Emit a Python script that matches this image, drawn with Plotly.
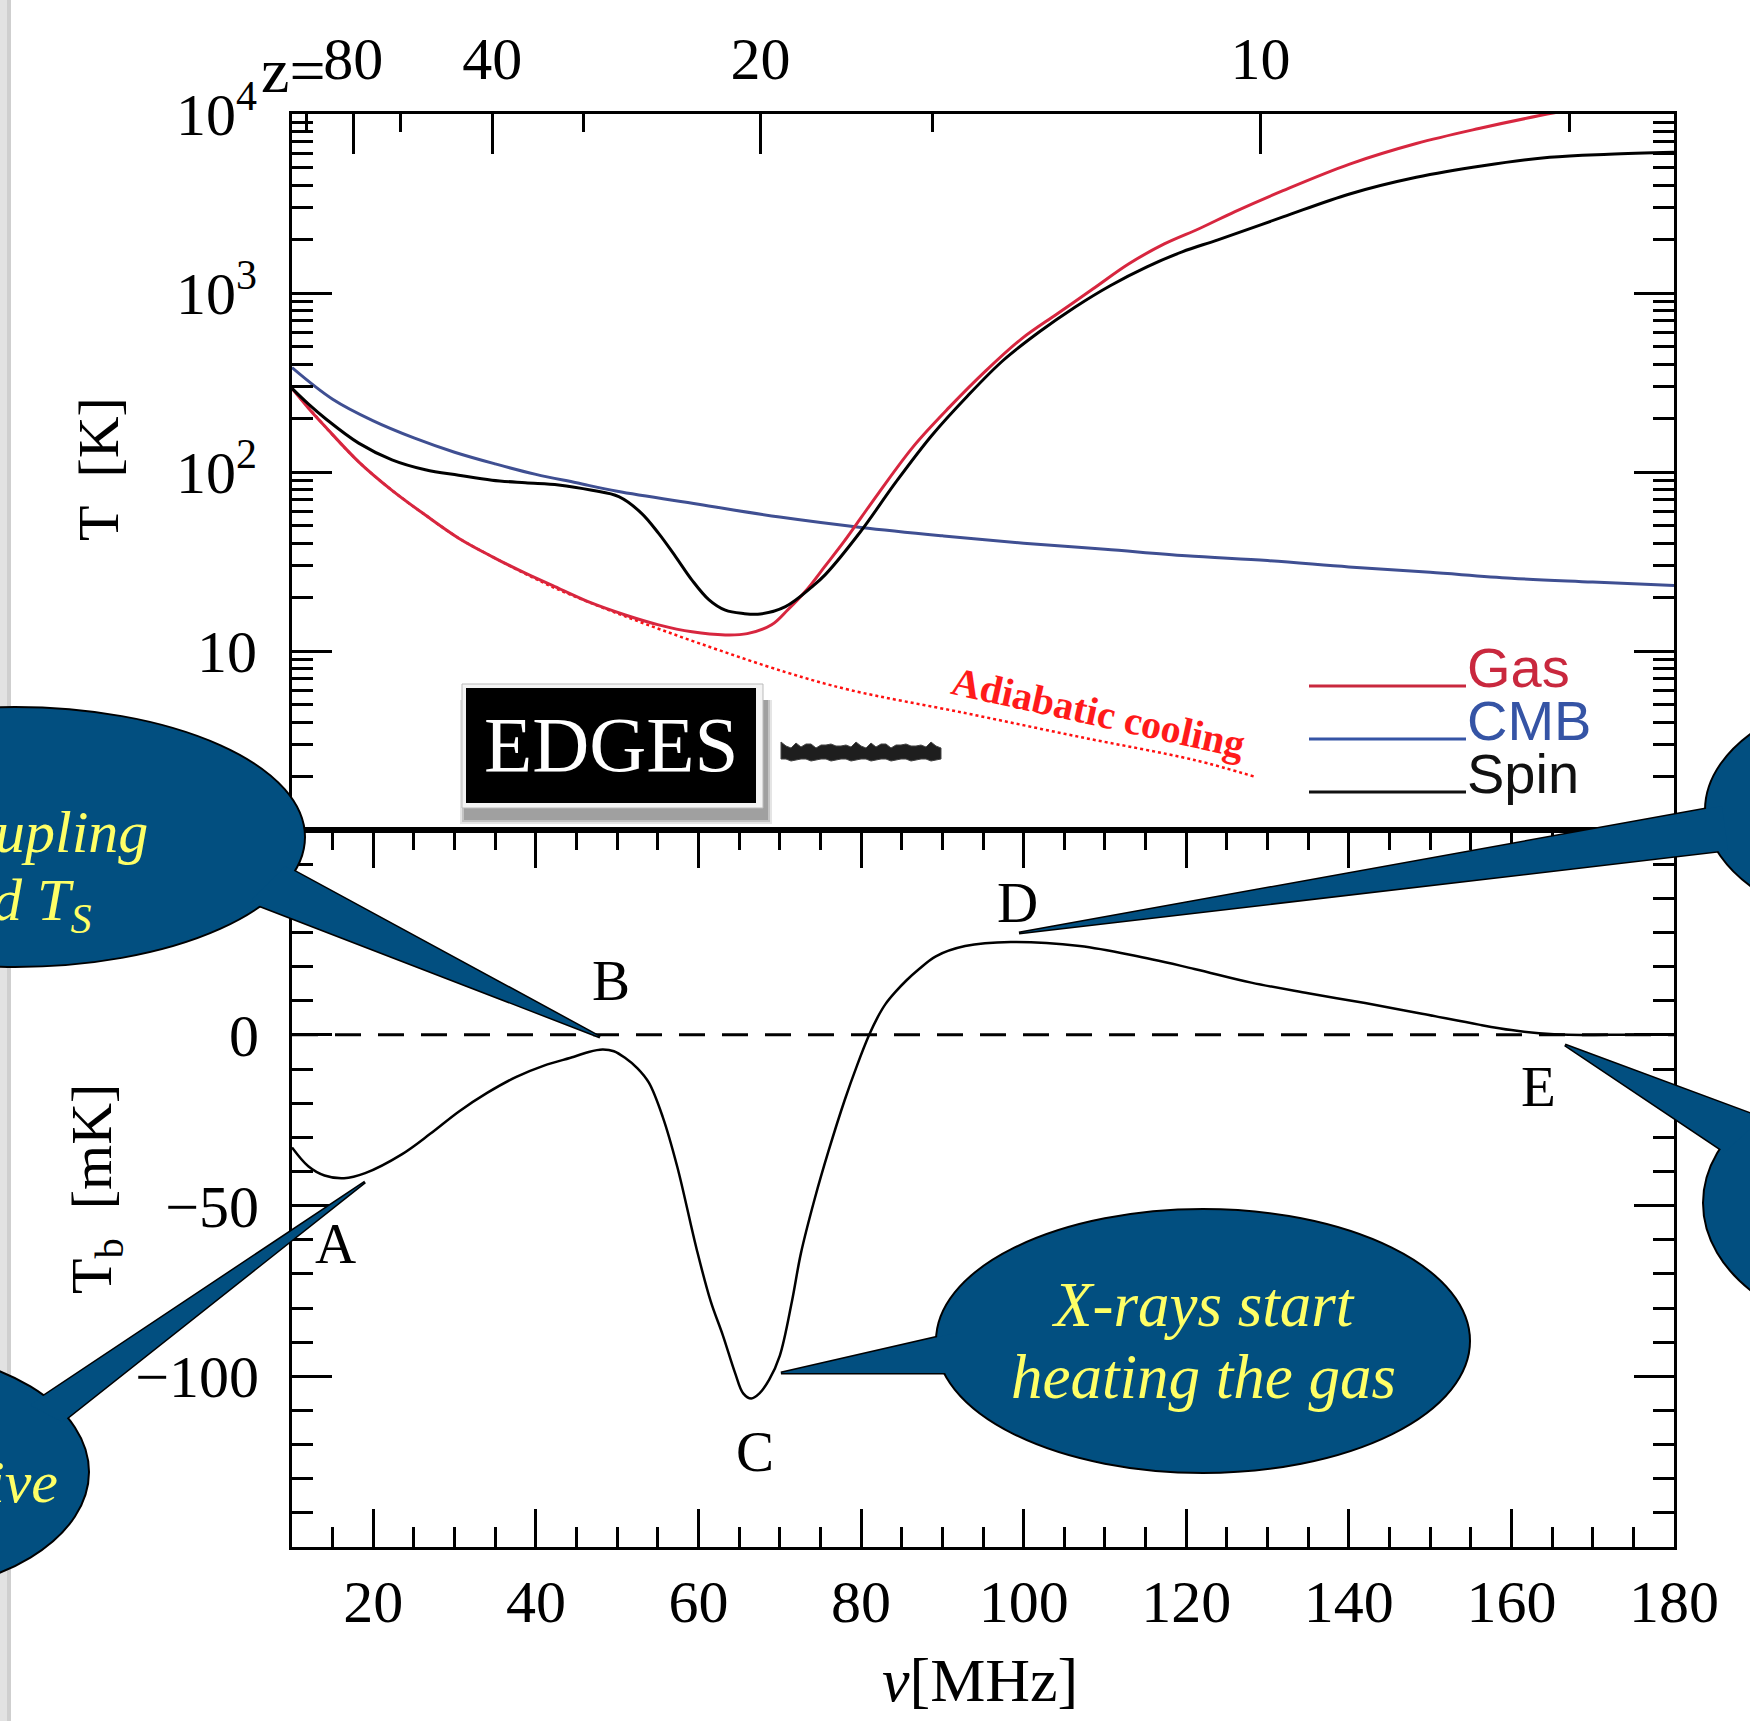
import plotly.graph_objects as go

W, H = 1750, 1721

# ---------------- data ----------------
nu_cmb = [10, 15, 20, 25, 30, 35, 40, 45, 50, 60, 70, 80, 90, 100, 110, 120, 130, 140, 150, 160, 170, 180]
T_cmb = [383, 255, 193, 155, 129, 111, 97, 87, 78, 66, 56, 49, 44, 40, 37, 34, 32, 29.5, 27.5, 25.5, 24.3, 23.2]

nu_gas = [10, 12, 14.1, 18.2, 22.3, 26.4, 30.5, 34.6, 38.7, 42.8, 46.9, 51, 55.1, 59.2, 63.3, 66, 69, 71,
          73.4, 75.5, 77.8, 80, 82.2, 86.5, 90.9, 95.3, 99.7, 104.1, 108.5, 112.9, 117.3, 121.7, 126,
          131.9, 140.1, 148.3, 156, 163.5, 167]
T_gas = [293, 228, 179, 114, 79, 57.5, 42.7, 33.7, 27.2, 22.4, 18.5, 15.9, 14.0, 12.8, 12.3, 12.5, 14.0, 17.0,
         22.2, 29.5, 40.3, 55.6, 76.8, 140, 231, 366, 553, 764, 1052, 1452, 1880, 2300, 2850,
         3730, 5250, 6840, 8300, 9800, 10500]

nu_spin = [10, 12, 14.1, 18.2, 22.3, 26.4, 30.5, 34.6, 38.7, 42.8, 46.9, 50.2, 53, 55.1, 57.2, 59.2, 61.3,
           63.3, 65.5, 67.6, 70.7, 74, 75.6, 79.9, 84.3, 88.7, 93.1, 97.5, 101.9, 106.3, 110.7, 115.1,
           119.5, 123.9, 131.9, 140.1, 148.3, 156.5, 164.7, 172, 180]
T_spin = [293, 240, 199, 145, 117, 103, 96, 90, 87, 84.6, 79, 72.8, 58.8, 45.4, 33.6, 24.9, 19.3,
          16.9, 16.2, 16.1, 17.7, 22.9, 26.7, 46.2, 88, 160, 266, 421, 605, 833, 1102, 1396,
          1698, 1982, 2660, 3575, 4430, 5140, 5730, 5960, 6110]

nu_adiabatic = [10, 14.1, 18.2, 22.3, 26.4, 30.5, 34.6, 38.7, 42.8, 51, 60.2, 70.8, 78.6, 92.8, 106.9, 121, 128.5]
T_adiabatic = [293, 179, 114, 79, 57.5, 42.7, 33.7, 27.0, 22.0, 15.6, 11.0, 7.6, 6.06, 4.5, 3.31, 2.46, 1.98]

nu_tb = [10, 12, 14, 16.4, 19, 23.5, 27, 30.5, 34, 37.6, 41, 44.7, 46.5, 48.2, 49.6, 51, 52.5, 53.9, 55.6, 57.4,
         59.8, 61.5, 63, 64.5, 65.5, 66.5, 67.5, 68.7, 70, 71.5, 72.6, 74.3, 76, 78, 79.5, 81, 82, 83, 84.2,
         85.6, 87, 89.2, 92.8, 98.4, 106.9, 114, 121, 128, 135, 142, 149, 156, 160, 163.4, 167, 172, 180]
T_tb = [-33, -38.5, -41.2, -42, -40.5, -35, -29, -22.5, -17, -12.3, -9, -6.4, -5, -4.3, -4.8, -6.8, -9.8, -14, -24, -38.7,
        -63, -78, -88, -99, -105, -106.5, -105, -101, -94, -78, -64, -48, -34, -19, -9, 0, 5, 9, 12.5,
        16, 19, 23, 26, 27.2, 26, 23, 19.3, 15.3, 12.2, 9.3, 6.2, 3.0, 1.4, 0.5, 0, 0, 0]

zero_nu = [10, 180]
zero_T = [0, 0]

z_major = [80, 40, 20, 10]
z_minor = [120, 60, 30, 15, 7.5]
nu_ticks = [20, 40, 60, 80, 100, 120, 140, 160, 180]
tb_ticks = [0, -50, -100]
tb_ticktext = ["0", "\u221250", "\u2212100"]
T_ticks = [10, 100, 1000, 10000]
T_ticktext = ["10", "10<sup>2</sup>", "10<sup>3</sup>", "10<sup>4</sup>"]

point_labels = ["A", "B", "C", "D", "E"]
point_nu = [15.4, 49.2, 66.9, 99.2, 163.3]
point_tb = [-61, 16, -122, 38.8, -15]

legend_names = ["Gas", "CMB", "Spin"]
legend_colors = ["#c9283e", "#3554a5", "#111111"]

GAS_C = "#d7263f"
CMB_C = "#3f4f92"
SPIN_C = "#000000"
BUBBLE = "#024f80"
YEL = "#ffff66"
SERIF = "Liberation Serif"
SANS = "Liberation Sans"


def px(x):
    return x / W


def py(y):
    return 1 - y / H


X0, X1 = 292, 1674
YT0, YMID, YB1 = 114, 830, 1547

fig = go.Figure()

fig.add_trace(go.Scatter(x=nu_adiabatic, y=T_adiabatic, mode="lines", name="Adiabatic",
                         line=dict(color="#ff1010", width=2.5, dash="dot", shape="spline", smoothing=1.0),
                         xaxis="x", yaxis="y", showlegend=False))
fig.add_trace(go.Scatter(x=nu_cmb, y=T_cmb, mode="lines", name="CMB",
                         line=dict(color=CMB_C, width=3, shape="spline", smoothing=1.0),
                         xaxis="x", yaxis="y", showlegend=False))
fig.add_trace(go.Scatter(x=nu_gas, y=T_gas, mode="lines", name="Gas",
                         line=dict(color=GAS_C, width=3, shape="spline", smoothing=1.0),
                         xaxis="x", yaxis="y", showlegend=False))
fig.add_trace(go.Scatter(x=nu_spin, y=T_spin, mode="lines", name="Spin",
                         line=dict(color=SPIN_C, width=3, shape="spline", smoothing=1.0),
                         xaxis="x", yaxis="y", showlegend=False))

fig.add_trace(go.Scatter(x=zero_nu, y=zero_T, mode="lines", name="zero",
                         line=dict(color="black", width=3, dash="26px,17px"),
                         xaxis="x2", yaxis="y2", showlegend=False))
fig.add_trace(go.Scatter(x=nu_tb, y=T_tb, mode="lines", name="T_b",
                         line=dict(color="black", width=2.5, shape="spline", smoothing=1.0),
                         xaxis="x2", yaxis="y2", showlegend=False))

tickfont = dict(family=SERIF, size=60, color="black")
common = dict(showline=True, linecolor="black", linewidth=3, ticks="inside", tickcolor="black",
              tickwidth=2.5, showgrid=False, zeroline=False, tickfont=tickfont, automargin=False)

nu_of_z = lambda z: 1420.4 / (1 + z)

fig.update_layout(
    width=W, height=H, autosize=False,
    margin=dict(l=0, r=0, t=0, b=0, pad=0, autoexpand=False),
    paper_bgcolor="white", plot_bgcolor="white",
    font=dict(family=SERIF, color="black"),
    xaxis=dict(domain=[px(X0), px(X1)], anchor="y", side="top", range=[10, 180],
               tickmode="array", tickvals=[nu_of_z(z) for z in z_major], ticktext=[str(z) for z in z_major],
               ticklen=40, mirror=True, ticklabelstandoff=8,
               minor=dict(tickmode="array", tickvals=[nu_of_z(z) for z in z_minor], ticks="inside",
                          ticklen=18, tickwidth=2.5, tickcolor="black", showgrid=False),
               **common),
    yaxis=dict(domain=[py(YMID), py(YT0)], anchor="x", type="log", range=[0, 4],
               tickmode="array", tickvals=T_ticks, ticktext=T_ticktext,
               ticklen=40, mirror="ticks", ticklabelstandoff=20,
               minor=dict(tickmode="array",
                          tickvals=[m * 10 ** d for d in range(0, 4) for m in range(2, 10)],
                          ticks="inside", ticklen=21, tickwidth=2.5, tickcolor="black", showgrid=False),
               **common),
    xaxis2=dict(domain=[px(X0), px(X1)], anchor="y2", range=[10, 180],
                tickmode="array", tickvals=nu_ticks, ticktext=[str(v) for v in nu_ticks],
                ticklen=38, mirror="ticks", ticklabelstandoff=0,
                minor=dict(tick0=10, dtick=5, ticks="inside", ticklen=20, tickwidth=2.5,
                           tickcolor="black", showgrid=False),
                **common),
    yaxis2=dict(domain=[py(YB1), py(YMID)], anchor="x2", range=[-150, 60],
                tickmode="array", tickvals=tb_ticks, ticktext=tb_ticktext,
                ticklen=40, mirror="ticks", ticklabelstandoff=18,
                minor=dict(tick0=0, dtick=10, ticks="inside", ticklen=21, tickwidth=2.5,
                           tickcolor="black", showgrid=False),
                **common),
)

shapes = []
annots = []

# light grey slide edge on the left
shapes.append(dict(type="rect", xref="paper", yref="paper", x0=px(0), x1=px(10), y0=py(H), y1=py(0),
                   fillcolor="#e2e2e2", line=dict(width=0), layer="below"))
shapes.append(dict(type="rect", xref="paper", yref="paper", x0=px(7), x1=px(11), y0=py(H), y1=py(0),
                   fillcolor="#cfcfcf", line=dict(width=0), layer="below"))

# EDGES badge: shadow, white frame, black box, scribble
for i, op in enumerate([0.10, 0.14, 0.18]):
    g = 6 - 2 * i
    shapes.append(dict(type="rect", xref="paper", yref="paper",
                       x0=px(466 - g), x1=px(766 + g), y0=py(700), y1=py(818 + g),
                       fillcolor="rgba(0,0,0,%.2f)" % op, line=dict(width=0), layer="above"))
shapes.append(dict(type="rect", xref="paper", yref="paper", x0=px(462), x1=px(763), y0=py(808), y1=py(684),
                   fillcolor="#f4f4f4", line=dict(color="#bbbbbb", width=1), layer="above"))
shapes.append(dict(type="rect", xref="paper", yref="paper", x0=px(466), x1=px(756), y0=py(803), y1=py(688),
                   fillcolor="black", line=dict(width=0), layer="above"))
top_pts, bot_pts = [], []
xs = list(range(781, 945, 5))
for i, x in enumerate(xs):
    top_pts.append((x, 744 + (i * 7) % 5 - (2 if i % 3 == 0 else 0)))
    bot_pts.append((x, 759 + (i * 3) % 4 - (3 if i % 4 == 1 else 0)))
path = "M " + " L ".join("%f,%f" % (px(x), py(y)) for x, y in top_pts)
path += " L " + " L ".join("%f,%f" % (px(x), py(y)) for x, y in reversed(bot_pts)) + " Z"
shapes.append(dict(type="path", xref="paper", yref="paper", path=path, fillcolor="#1e1e1e",
                   line=dict(color="#444444", width=1), layer="above"))

# speech bubbles
bubbles = [
    dict(cx=15, cy=837, a=290, b=130, ptr=[(600, 1037), (250, 902), (285, 866)]),
    dict(cx=-111, cy=1472, a=200, b=121, ptr=[(365, 1182), (30, 1405), (62, 1422)]),
    dict(cx=1203, cy=1341, a=267, b=132, ptr=[(781, 1373), (960, 1332), (960, 1373)]),
    dict(cx=1925, cy=810, a=220, b=125, ptr=[(1019, 933), (1722, 806), (1728, 850)]),
    dict(cx=1903, cy=1203, a=200, b=135, ptr=[(1565, 1045), (1762, 1118), (1725, 1152)]),
]


def tri(pts):
    return "M " + " L ".join("%f,%f" % (px(x), py(y)) for x, y in pts) + " Z"


for bb in bubbles:
    shapes.append(dict(type="path", xref="paper", yref="paper", path=tri(bb["ptr"]), fillcolor=BUBBLE,
                       line=dict(color="black", width=3), layer="above"))
    shapes.append(dict(type="circle", xref="paper", yref="paper",
                       x0=px(bb["cx"] - bb["a"]), x1=px(bb["cx"] + bb["a"]),
                       y0=py(bb["cy"] + bb["b"]), y1=py(bb["cy"] - bb["b"]),
                       fillcolor=BUBBLE, line=dict(color="black", width=2), layer="above"))
    shapes.append(dict(type="path", xref="paper", yref="paper", path=tri(bb["ptr"]), fillcolor=BUBBLE,
                       line=dict(width=0), layer="above"))

# legend (line samples + coloured names)
leg_base = [686, 739, 792]
for name, col, yb in zip(legend_names, legend_colors, leg_base):
    shapes.append(dict(type="line", xref="paper", yref="paper", x0=px(1309), x1=px(1466),
                       y0=py(yb), y1=py(yb), line=dict(color=col, width=3), layer="above"))
    annots.append(dict(text=name, xref="paper", yref="paper", x=px(1465), y=py(yb - 19),
                       xanchor="left", yanchor="middle", showarrow=False,
                       font=dict(family=SANS, size=56, color=col)))

fig.update_layout(shapes=shapes)


def ann(text, x, y, size, color="black", family=SERIF, xanchor="center", angle=0, yanchor="middle"):
    annots.append(dict(text=text, xref="paper", yref="paper", x=px(x), y=py(y), xanchor=xanchor,
                       yanchor=yanchor, showarrow=False, textangle=angle,
                       font=dict(family=family, size=size, color=color)))


# axis titles
ann("T  [K]", 98, 469, 58, angle=-90)
ann("T<sub>b</sub>  [mK]", 95, 1189, 58, angle=-90)
ann("<i>\u03bd</i>[MHz]", 980, 1680, 62)
ann("z=", 328, 70, 64, xanchor="right")

# EDGES and adiabatic label
ann("EDGES", 611, 745, 79, color="white")
ann("<b>Adiabatic cooling</b>", 1098, 712, 40, color="#ff1a1a", angle=12.5)

# bubble texts
ann("<i>upling</i>", 150, 832, 60, color=YEL, xanchor="right")
ann("<i>d T<sub>S</sub></i>", 93, 904, 60, color=YEL, xanchor="right")
ann("<i>ive</i>", 60, 1482, 60, color=YEL, xanchor="right")
ann("<i>X-rays start</i>", 1203, 1305, 63, color=YEL)
ann("<i>heating the gas</i>", 1203, 1377, 63, color=YEL)

# A..E point labels in data coordinates
for lab, xv, yv in zip(point_labels, point_nu, point_tb):
    annots.append(dict(text=lab, xref="x2", yref="y2", x=xv, y=yv, showarrow=False,
                       xanchor="center", yanchor="middle",
                       font=dict(family=SERIF, size=57, color="black")))

fig.update_layout(annotations=annots)

fig.write_html("out.html")
